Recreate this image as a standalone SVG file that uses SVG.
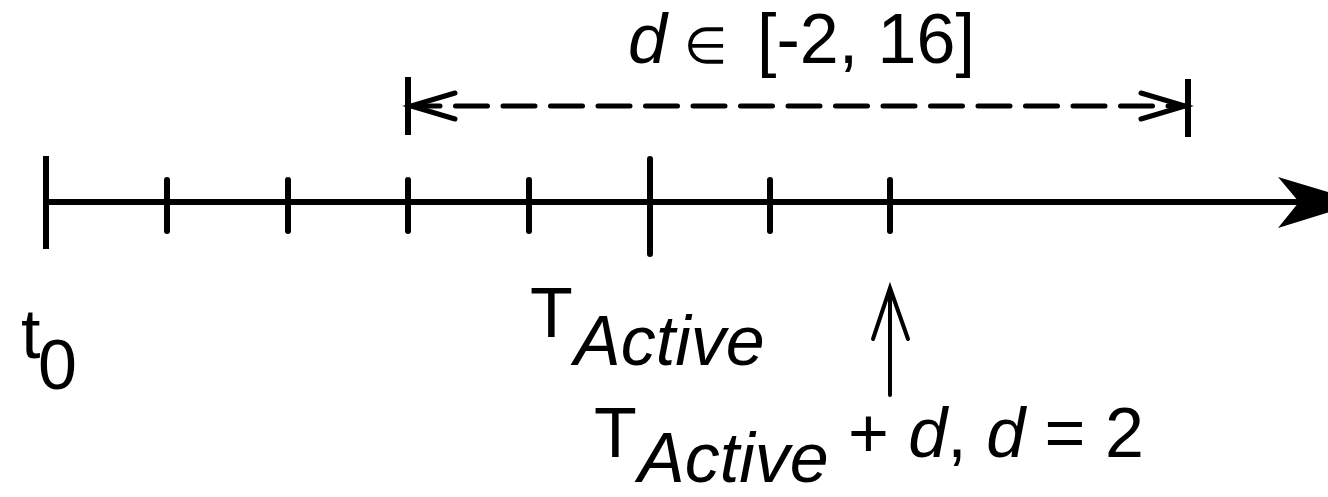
<svg xmlns="http://www.w3.org/2000/svg" width="1328" height="497" viewBox="0 0 1328 497">
  <style>
    .ln { stroke: #000; fill: none; }
    .axis { stroke-width: 6; }
    .tick { stroke-width: 6; stroke-linecap: round; }
    .bar { stroke-width: 6; stroke-linecap: butt; }
    .dash { stroke-width: 5; stroke-linecap: round; stroke-dasharray: 32 15.5; }
    .chev { stroke-width: 5; stroke-linecap: round; stroke-linejoin: miter; }
    .txt { font-family: "Liberation Sans", Arial, Helvetica, sans-serif; font-size: 70px; fill: #000; }
    .it { font-style: italic; }
  </style>
  <rect width="1328" height="497" fill="#fff"/>
  <g id="connectors">
    <g id="axis">
      <line class="ln axis" x1="46" y1="202" x2="1300" y2="202"/>
      <polygon points="1278,177 1362,202 1278,228 1299,202" fill="#000"/>
    </g>
    <g id="range">
      <line class="ln dash" x1="408" y1="106" x2="1188" y2="106"/>
      <polyline class="ln chev" points="455,93 411,106 455,119"/>
      <polyline class="ln chev" points="1141,93 1185,106 1141,119"/>
      <line class="ln bar" x1="408" y1="77" x2="408" y2="135"/>
      <line class="ln bar" x1="1188" y1="79" x2="1188" y2="137"/>
    </g>
    <g id="pointer">
      <line class="ln" stroke-width="4" stroke-linecap="round" x1="890" y1="395" x2="890" y2="290"/>
      <polyline class="ln" stroke-width="4" stroke-linecap="round" points="873,339 890,288 908,339"/>
    </g>
  </g>
  <g id="ticks">
    <line class="ln bar" x1="46" y1="156" x2="46" y2="249"/>
    <line class="ln tick" x1="167" y1="180" x2="167" y2="231"/>
    <line class="ln tick" x1="288" y1="180" x2="288" y2="231"/>
    <line class="ln tick" x1="408" y1="180" x2="408" y2="231"/>
    <line class="ln tick" x1="529" y1="180" x2="529" y2="231"/>
    <line class="ln tick" x1="650" y1="159" x2="650" y2="254"/>
    <line class="ln tick" x1="770" y1="180" x2="770" y2="231"/>
    <line class="ln tick" x1="890" y1="180" x2="890" y2="231"/>
  </g>
  <g id="label-range">
    <text class="txt" y="63"><tspan class="it" x="628">d</tspan><tspan x="684" font-size="50" font-family="'DejaVu Sans', 'Liberation Sans', sans-serif">∈</tspan><tspan x="757">[-2, 16]</tspan></text>
  </g>
  <g id="label-t0">
    <text class="txt" y="358"><tspan x="21">t</tspan><tspan x="38" y="389">0</tspan></text>
  </g>
  <g id="label-tactive">
    <text class="txt" y="337"><tspan x="530">T</tspan><tspan class="it" x="574" y="365">Active</tspan></text>
  </g>
  <g id="label-tactive-d">
    <text class="txt" y="457"><tspan x="594">T</tspan><tspan class="it" x="638" y="482">Active</tspan><tspan x="848" y="457">+ </tspan><tspan class="it">d</tspan><tspan>, </tspan><tspan class="it">d</tspan><tspan> = 2</tspan></text>
  </g>
</svg>
